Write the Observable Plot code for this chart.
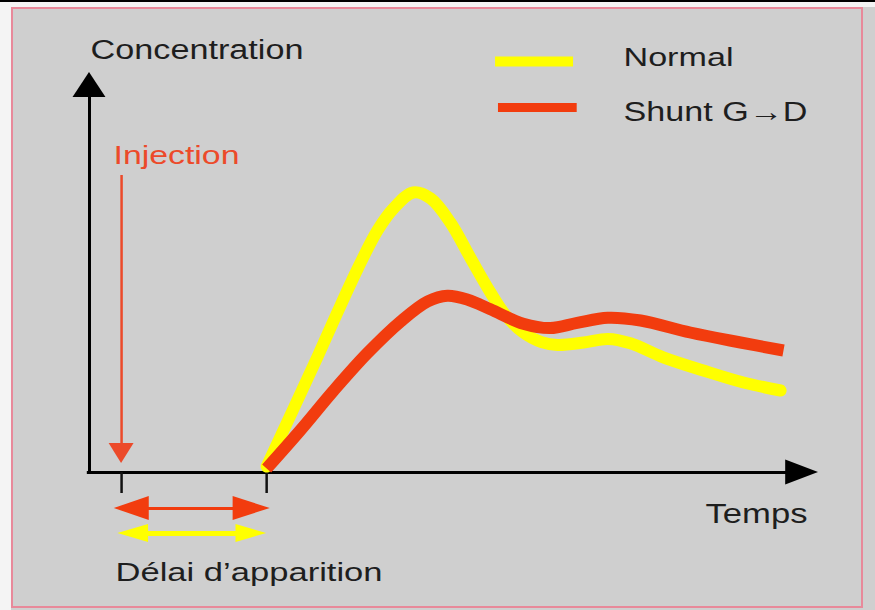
<!DOCTYPE html>
<html>
<head>
<meta charset="utf-8">
<script src="https://cdn.jsdelivr.net/npm/d3@7"></script>
<script src="https://cdn.jsdelivr.net/npm/@observablehq/plot@0.6"></script>
<style>
  html, body { margin: 0; padding: 0; background: #cfcfcf; }
  #frame { position: relative; width: 875px; height: 610px; background: #cfcfcf; overflow: hidden; font-family: "Liberation Sans", Arial, sans-serif; }
  #frame .deco { position: absolute; }
  #chart { position: absolute; left: 0; top: 0; }
</style>
</head>
<body>
<div id="frame">
  <div class="deco" style="left:0;top:0;width:11px;height:610px;background:#f4f4f4"></div>
  <div class="deco" style="left:0;top:0;width:875px;height:7px;background:#f4f4f4"></div>
  <div class="deco" style="left:0;top:0;width:875px;height:2px;background:#000"></div>
  <div class="deco" style="left:11px;top:7px;width:848px;height:597px;border:2px solid #e8899a"></div>
  <div id="chart"></div>
</div>
<script>
// ---- Data (time in arbitrary units 0–100, concentration 0–100) ----
const injectionTime = 4.4;      // moment of injection
const appearanceTime = 24.3;    // first appearance of the tracer

const normalTime = [24.3, 28.0, 31.3, 34.0, 36.8, 39.5, 41.7, 44.4, 46.8, 49.5, 52.3, 55.0, 57.0, 59.5, 62.0, 64.2, 67.8, 71.1, 74.2, 78.7, 84.2, 89.7, 94.8];
const normalConc = [1.5, 16.0, 29.0, 40.0, 51.0, 60.5, 66.0, 70.0, 68.5, 62.5, 53.5, 45.0, 39.5, 35.0, 32.6, 31.9, 32.5, 33.4, 32.3, 28.8, 25.5, 22.5, 20.5];

const shuntTime = [24.3, 28.9, 33.5, 38.1, 42.7, 46.4, 49.1, 51.9, 55.0, 59.5, 63.2, 66.9, 71.1, 75.6, 82.4, 89.3, 95.2];
const shuntConc = [1.0, 10.5, 20.5, 29.8, 37.8, 42.8, 44.2, 43.2, 40.8, 37.2, 36.1, 37.4, 38.7, 38.0, 35.0, 32.5, 30.5];

const seriesNames = ["Normal", "Shunt G\u2192D"];
const axisLabels = ["Concentration", "Temps"];
const annotationLabels = ["Injection", "D\u00e9lai d\u2019apparition"];

// ---- build tables ----
const normal = normalTime.map((t, i) => ({t, c: normalConc[i]}));
const shunt = shuntTime.map((t, i) => ({t, c: shuntConc[i]}));

const YELLOW = "#ffff00";
const RED = "#f23c0e";
const INJ = "#ec4a2a";
const INK = "#1e1e1e";

// triangle helpers (in data units)
function headX(tip, base, y, half) {
  return [{y: y - half, x1: base, x2: base}, {y, x1: base, x2: tip}, {y: y + half, x1: base, x2: base}];
}
function headY(tip, base, x, half) {
  return [{x: x - half, y1: base, y2: base}, {x, y1: base, y2: tip}, {x: x + half, y1: base, y2: base}];
}

const redArrowY = -9, yellowArrowY = -15.25;
const rL = injectionTime - 1.0, rR = appearanceTime + 0.5;
const yL = injectionTime - 0.5, yR = appearanceTime;

const plot = Plot.plot({
  width: 875,
  height: 610,
  marginLeft: 89,
  marginRight: 57,
  marginTop: 72,
  marginBottom: 138,
  x: {domain: [0, 100], axis: null},
  y: {domain: [0, 100], axis: null},
  style: {background: "transparent", overflow: "visible", fontFamily: "Liberation Sans, Arial, sans-serif"},
  marks: [
    // axes
    Plot.ruleX([0], {y1: 0, y2: 94.5, stroke: "#000", strokeWidth: 3}),
    Plot.areaY(headY(100, 93.75, 0, 2.26), {x: "x", y1: "y1", y2: "y2", fill: "#000", curve: "linear"}),
    Plot.ruleY([0], {x1: -0.3, x2: 96, stroke: "#000", strokeWidth: 3}),
    Plot.areaX(headX(100, 95.5, 0, 3.1), {y: "y", x1: "x1", x2: "x2", fill: "#000", curve: "linear"}),
    // ticks for injection & appearance
    Plot.ruleX([injectionTime, appearanceTime], {y1: 0, y2: -5.25, stroke: "#111", strokeWidth: 2.5}),
    // curves
    Plot.line(normal, {x: "t", y: "c", stroke: YELLOW, strokeWidth: 12, curve: "catmull-rom", strokeLinecap: "round", strokeLinejoin: "round"}),
    Plot.line(shunt, {x: "t", y: "c", stroke: RED, strokeWidth: 12, curve: "catmull-rom", strokeLinecap: "butt", strokeLinejoin: "round"}),
    // injection arrow
    Plot.ruleX([injectionTime], {y1: 74.25, y2: 7, stroke: INJ, strokeWidth: 2.5}),
    Plot.areaY(headY(2.25, 7.25, injectionTime, 1.71), {x: "x", y1: "y1", y2: "y2", fill: INJ, curve: "linear"}),
    // delay double arrows
    Plot.ruleY([redArrowY], {x1: rL + 4, x2: rR - 4, stroke: RED, strokeWidth: 3}),
    Plot.areaX(headX(rL, rL + 4.8, redArrowY, 3), {y: "y", x1: "x1", x2: "x2", fill: RED, curve: "linear"}),
    Plot.areaX(headX(rR, rR - 5.1, redArrowY, 3), {y: "y", x1: "x1", x2: "x2", fill: RED, curve: "linear"}),
    Plot.ruleY([yellowArrowY], {x1: yL + 3.5, x2: yR - 3.5, stroke: YELLOW, strokeWidth: 5}),
    Plot.areaX(headX(yL, yL + 4.2, yellowArrowY, 2.25), {y: "y", x1: "x1", x2: "x2", fill: YELLOW, curve: "linear"}),
    Plot.areaX(headX(yR, yR - 4.2, yellowArrowY, 2.25), {y: "y", x1: "x1", x2: "x2", fill: YELLOW, curve: "linear"}),
    // legend
    Plot.ruleY([102.75], {x1: 55.7, x2: 66.4, stroke: YELLOW, strokeWidth: 10}),
    Plot.ruleY([91.25], {x1: 56.1, x2: 66.9, stroke: RED, strokeWidth: 9}),
    Plot.text([seriesNames[0]], {x: 73.25, y: 103.75, text: d => d, textAnchor: "start", fontSize: 26, fill: INK}),
    Plot.text([seriesNames[1]], {x: 73.25, y: 90.1, text: d => d, textAnchor: "start", fontSize: 27, fill: INK}),
    // axis labels
    Plot.text([axisLabels[0]], {x: 0.14, y: 105.65, text: d => d, textAnchor: "start", fontSize: 27, fill: INK}),
    Plot.text([axisLabels[1]], {x: 84.5, y: -10.5, text: d => d, textAnchor: "start", fontSize: 27, fill: INK}),
    // annotations
    Plot.text([annotationLabels[0]], {x: 3.29, y: 79.25, text: d => d, textAnchor: "start", fontSize: 25, fill: INJ}),
    Plot.text([annotationLabels[1]], {x: 3.57, y: -25, text: d => d, textAnchor: "start", fontSize: 26, fill: INK})
  ]
});

// the original artwork is horizontally stretched: fit each label to its width
const widths = {
  "Concentration": 213, "Temps": 102, "Normal": 110, "Shunt G\u2192D": 184,
  "Injection": 126, "D\u00e9lai d\u2019apparition": 267
};
d3.select(plot).selectAll("text").each(function() {
  const w = widths[this.textContent];
  if (w) { this.setAttribute("textLength", w); this.setAttribute("lengthAdjust", "spacingAndGlyphs"); }
});
document.getElementById("chart").appendChild(plot);
</script>
</body>
</html>
